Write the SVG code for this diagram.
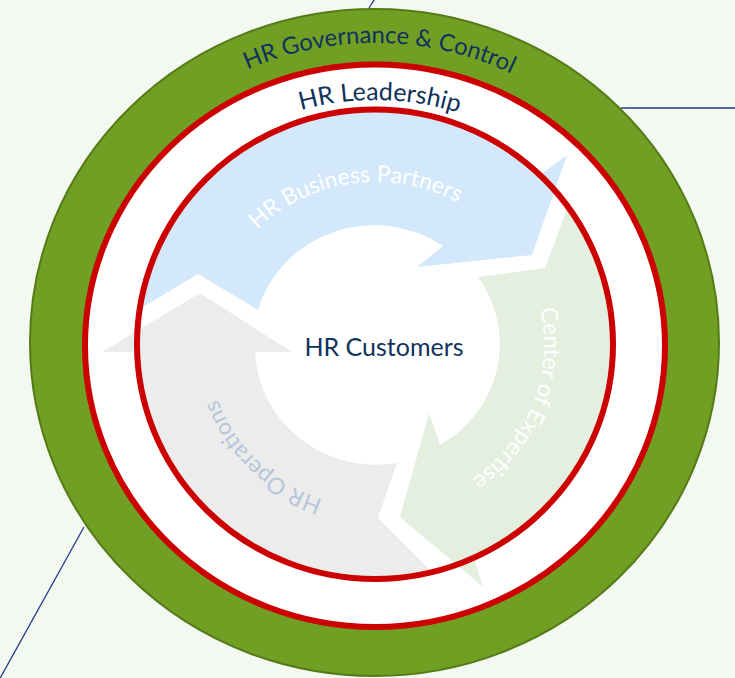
<svg xmlns="http://www.w3.org/2000/svg" width="735" height="678" viewBox="0 0 735 678">
  <defs>
    <style>
      .navy { fill: #10325c; font-family: Lato, "Liberation Sans", sans-serif; font-size: 25px; }
      .gov { font-size: 23.8px; }
      .band { fill: #ffffff; font-family: Lato, "Liberation Sans", sans-serif; font-size: 23px; }
      .ops { fill: #b7c6d9; font-family: Lato, "Liberation Sans", sans-serif; font-size: 23px; }
      .lead { fill: none; stroke: #24398a; stroke-width: 1.3; }
      .redring { stroke: #cc0000; stroke-width: 6; }
    </style>
    <!-- baselines for the curved labels -->
    <path id="govArc" d="M 66,342 A 309 299 0 0 1 684,342"/>
    <path id="leadArc" d="M 112,346 A 263 246 0 0 1 638,346"/>
    <path id="bpArc" d="M 220.2,283.9 A 168 163 0 0 1 508.4,244.6"/>
    <path id="coeArc" d="M 506.6,242.4 A 168 163 0 0 1 402.3,506"/>
    <path id="opsArc" d="M 419.5,502.4 A 168 163 0 0 1 213.7,302.8"/>
  </defs>

  <rect width="735" height="678" fill="#f3f8f0"/>

  <!-- leader lines running out of the diagram -->
  <g id="connectors">
    <line class="lead" x1="376" y1="-3" x2="369" y2="8"/>
    <line class="lead" x1="621" y1="108" x2="735" y2="108"/>
    <line class="lead" x1="84" y1="527" x2="-2" y2="682"/>
  </g>

  <!-- outer governance ring -->
  <g id="governance">
    <ellipse cx="374.5" cy="342.5" rx="344.5" ry="333.5" fill="#709f23" stroke="#557b17" stroke-width="2"/>
    <text class="navy gov"><textPath href="#govArc" startOffset="50.5%" text-anchor="middle">HR Governance &amp; Control</textPath></text>
  </g>

  <!-- leadership band -->
  <g id="leadership">
    <ellipse class="redring" cx="375" cy="345.75" rx="290" ry="281.25" fill="#ffffff"/>
    <text class="navy"><textPath href="#leadArc" startOffset="50.6%" text-anchor="middle">HR Leadership</textPath></text>
  </g>

  <!-- cycle of three arrows -->
  <g id="business-partners">
    <path fill="#d4e8fb" d="M 139.2,309.3 A 239 236 0 0 1 541.5,174 L 567,155 L 532,255 L 417,267 L 443,246 A 121 117 0 0 0 258,310 L 198,274 Z"/>
    <text class="band"><textPath href="#bpArc" startOffset="50%" text-anchor="middle">HR Business Partners</textPath></text>
  </g>

  <g id="center-of-expertise">
    <path fill="#e4efdf" d="M 568.7,205.2 A 239 236 0 0 1 474.4,559.2 L 483,587 L 400,517 L 429,413 L 440,445 A 121 117 0 0 0 478,277 L 545,268 Z"/>
    <text class="band"><textPath href="#coeArc" startOffset="50%" text-anchor="middle">Center of Expertise</textPath></text>
  </g>

  <g id="hr-operations">
    <path fill="#ececec" d="M 433.3,573.3 A 239 236 0 0 1 136.6,352 L 102,352 L 200,293 L 292,352 L 255.2,352 A 121 117 0 0 0 397,463 L 378,518 Z"/>
    <text class="ops"><textPath href="#opsArc" startOffset="50%" text-anchor="middle">HR Operations</textPath></text>
  </g>

  <!-- inner ring edge drawn over the arrows -->
  <ellipse class="redring" cx="375" cy="344.25" rx="238" ry="234.75" fill="none"/>

  <g id="customers">
    <text class="navy" x="384" y="356" text-anchor="middle">HR Customers</text>
  </g>
</svg>
